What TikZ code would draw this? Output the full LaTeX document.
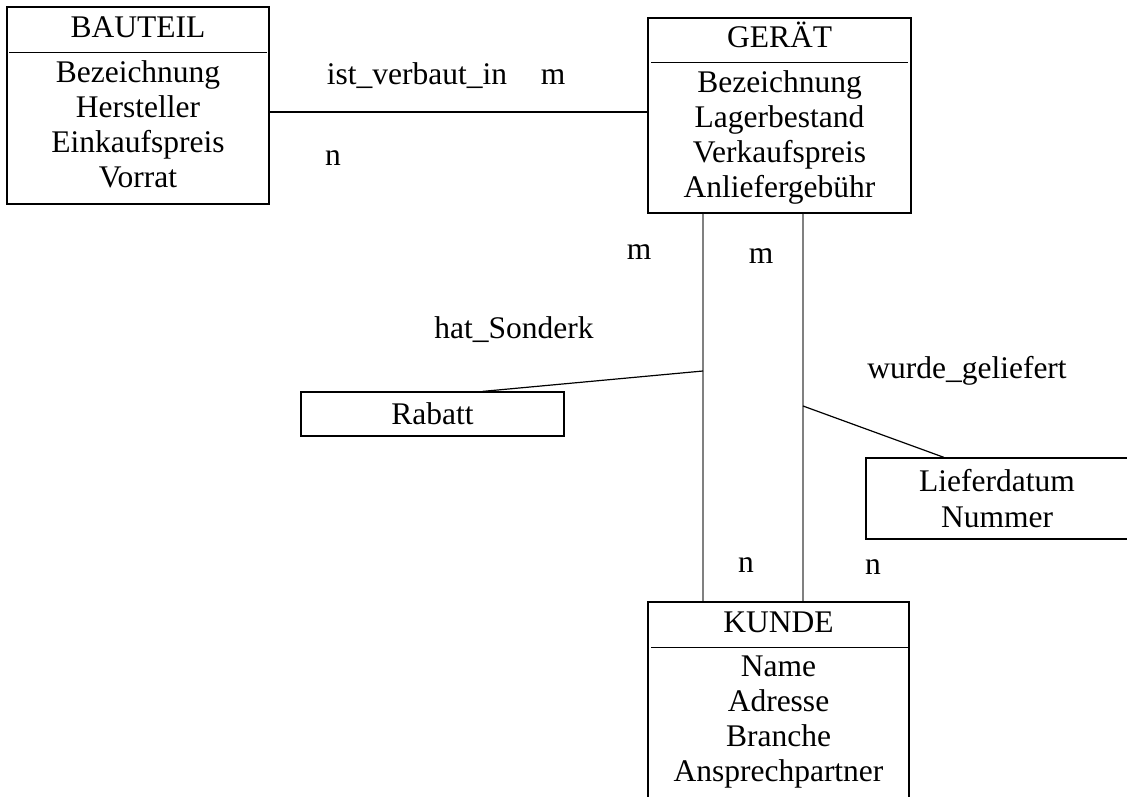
\documentclass[tikz,border=0pt]{standalone}
\usepackage{fontspec}
\setmainfont{Liberation Serif}
\begin{document}
\begin{tikzpicture}[x=1pt,y=-1pt,
  entity/.style={draw,line width=1.2pt,inner sep=0pt},
  txt/.style={font=\fontsize{31.5}{35}\selectfont,inner sep=0pt,align=center},
  link/.style={line width=1.2pt},
  rel/.style={line width=1.8pt,gray}]
 	\useasboundingbox (0,0) rectangle (1127,797);
 	% entities
 	\node[entity,minimum width=262,minimum height=197] (bauteil) at (138,105.5) {};
 	\node[txt,anchor=base] (bauteilT) at ([yshift=-31]bauteil.north) {BAUTEIL};
 	\draw[link] ([xshift=3,yshift=-46]bauteil.north west) -- ([xshift=-3,yshift=-46]bauteil.north east);
 	\node[txt,anchor=base] (bauteilA) at ([yshift=-181]bauteil.north) {Bezeichnung\\Hersteller\\Einkaufspreis\\Vorrat};
 	\node[entity,minimum width=263,minimum height=195] (geraet) at (779.5,115.5) {};
 	\node[txt,anchor=base] (geraetT) at ([yshift=-30]geraet.north) {GERÄT};
 	\draw[link] ([xshift=4,yshift=-45]geraet.north west) -- ([xshift=-4,yshift=-45]geraet.north east);
 	\node[txt,anchor=base] (geraetA) at ([yshift=-180]geraet.north) {Bezeichnung\\Lagerbestand\\Verkaufspreis\\Anliefergebühr};
 	\node[entity,minimum width=261,minimum height=208] (kunde) at (778.5,706) {};
 	\node[txt,anchor=base] (kundeT) at ([yshift=-31]kunde.north) {KUNDE};
 	\draw[link] ([xshift=4,yshift=-46]kunde.north west) -- ([xshift=-2,yshift=-46]kunde.north east);
 	\node[txt,anchor=base] (kundeA) at ([yshift=-180]kunde.north) {Name\\Adresse\\Branche\\Ansprechpartner};
 	\node[entity,txt,minimum width=263,minimum height=44] (rabatt) at (432.5,414) {Rabatt};
 	\node[entity,txt,minimum width=262,minimum height=81] (liefer) at (997,498.5) {Lieferdatum\\[1pt]Nummer};
 	% relationships
 	\coordinate (iv) at (0,112);
 	\draw[link] (bauteil.east |- iv) -- (geraet.west |- iv);
 	\coordinate (gl) at (703,0);
 	\coordinate (gr) at (803,0);
 	\draw[rel] (geraet.south -| gl) -- (kunde.north -| gl);
 	\draw[rel] (geraet.south -| gr) -- (kunde.north -| gr);
 	\coordinate (hs) at (703,371);
 	\draw[link] ([xshift=50]rabatt.north) -- (hs);
 	\coordinate (wg) at (803,406);
 	\draw[link] (wg) -- ([xshift=-53]liefer.north);
 	% labels
 	\node[txt,anchor=base] (ivL) at (417,85) {ist\_verbaut\_in};
 	\node[txt,anchor=base] (ivM) at (553,85) {m};
 	\node[txt,anchor=base] (ivN) at (333,165) {n};
 	\node[txt,anchor=base] (hsM) at (639,259) {m};
 	\node[txt,anchor=base] (wgM) at (761,263) {m};
 	\node[txt,anchor=base] (hsL) at (514,338) {hat\_Sonderk};
 	\node[txt,anchor=base] (wgL) at (967,378) {wurde\_geliefert};
 	\node[txt,anchor=base] (hsN) at (746,572) {n};
 	\node[txt,anchor=base] (wgN) at (873,574) {n};
\end{tikzpicture}
\end{document}
